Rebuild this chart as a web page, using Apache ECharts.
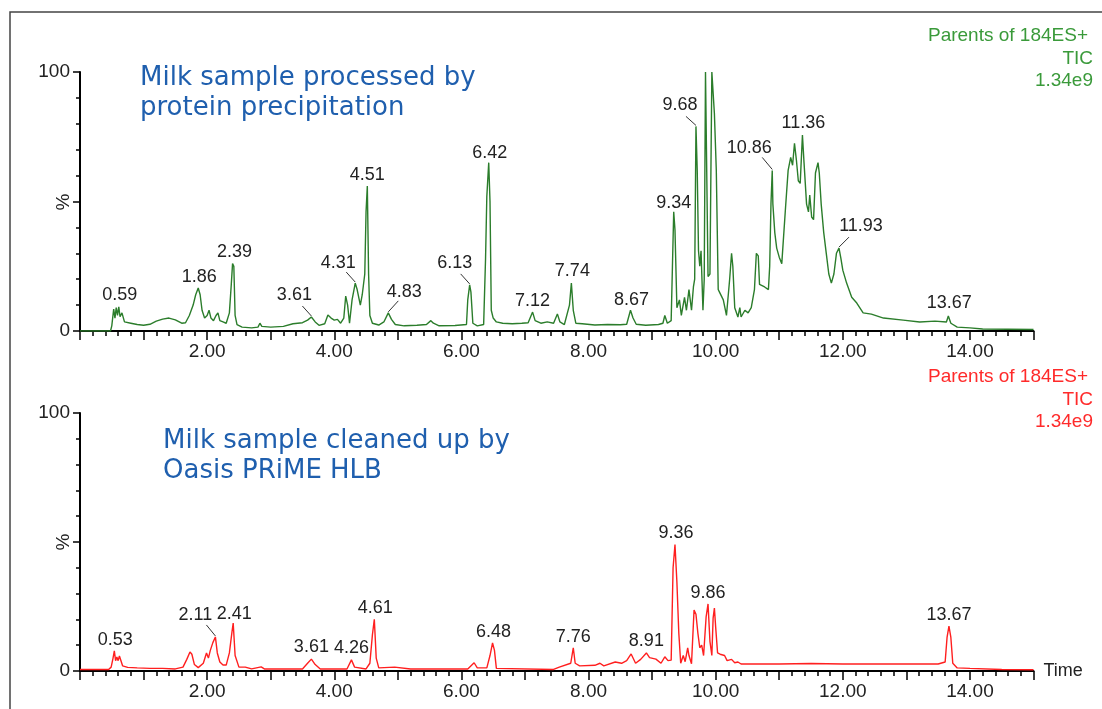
<!DOCTYPE html>
<html>
<head>
<meta charset="utf-8">
<script src="https://cdn.jsdelivr.net/npm/echarts@6/dist/echarts.min.js"></script>
<style>
html, body { margin: 0; padding: 0; background: #fff; }
#chart { width: 1102px; height: 709px; }
</style>
</head>
<body>
<div id="chart"></div>
<script>
// protein precipitation trace: [time (min), relative intensity %]
const topTrace = [
  [0, 0], [0.48, 0], [0.5, 2], [0.53, 8.5], [0.55, 5], [0.57, 9], [0.59, 6], [0.61, 9.3], [0.63, 5.5], [0.66, 7],
  [0.7, 3.5], [0.8, 3], [0.9, 2.5], [1.0, 2.2], [1.1, 2.6], [1.2, 3.8], [1.3, 4.6], [1.4, 5], [1.5, 4.3], [1.6, 3],
  [1.66, 3.2], [1.72, 6], [1.78, 10], [1.82, 14], [1.86, 16.6], [1.89, 14], [1.92, 8], [1.96, 5], [2.0, 6], [2.03, 8],
  [2.06, 5], [2.1, 4], [2.14, 6], [2.17, 7], [2.2, 4], [2.25, 3.5], [2.3, 3], [2.35, 7], [2.38, 18], [2.4, 26],
  [2.42, 25], [2.44, 6], [2.47, 2.5], [2.55, 1.5], [2.7, 1.2], [2.8, 1.5], [2.83, 3], [2.86, 1.8], [3.0, 1.5], [3.2, 1.8],
  [3.35, 2.8], [3.5, 3.2], [3.58, 4.2], [3.64, 5.4], [3.7, 3.5], [3.76, 2.2], [3.85, 2.8], [3.9, 6.2], [3.95, 5], [4.0, 4.2],
  [4.05, 4.5], [4.1, 3], [4.15, 5], [4.18, 13.5], [4.21, 10], [4.24, 3], [4.28, 12], [4.33, 18.5], [4.36, 16], [4.41, 10],
  [4.44, 14], [4.48, 22], [4.5, 46], [4.52, 56], [4.54, 22], [4.56, 6], [4.6, 3], [4.7, 2.3], [4.78, 3.5], [4.85, 7],
  [4.9, 4.5], [4.96, 2.5], [5.1, 2], [5.3, 2.2], [5.45, 2.5], [5.52, 4], [5.56, 3], [5.65, 2], [5.9, 2.1], [6.08, 2.5],
  [6.1, 12], [6.13, 17.8], [6.15, 15], [6.18, 3], [6.25, 2], [6.35, 2.5], [6.38, 28], [6.4, 52], [6.43, 65], [6.45, 50],
  [6.47, 8], [6.5, 5], [6.55, 3.5], [6.65, 3], [6.8, 2.8], [6.95, 3], [7.05, 3.2], [7.12, 7.3], [7.16, 4], [7.25, 3],
  [7.35, 3.5], [7.45, 3], [7.51, 6.6], [7.55, 3.5], [7.62, 2.5], [7.7, 10], [7.73, 18.5], [7.76, 8], [7.8, 3], [7.9, 2.8],
  [8.1, 2.3], [8.3, 2.5], [8.5, 2.4], [8.6, 2.6], [8.66, 8], [8.7, 5], [8.75, 2.6], [8.9, 2.2], [9.1, 2.5], [9.17, 3],
  [9.2, 6], [9.24, 3], [9.3, 4], [9.32, 25], [9.34, 46], [9.36, 39], [9.39, 9], [9.43, 12], [9.46, 6], [9.51, 13],
  [9.54, 8], [9.58, 16], [9.62, 8], [9.65, 17], [9.67, 20], [9.69, 79], [9.71, 62], [9.73, 31], [9.75, 25], [9.77, 31],
  [9.8, 8], [9.82, 20], [9.84, 100], [9.87, 100], [9.88, 21], [9.91, 22], [9.94, 100], [9.97, 100], [9.98, 84], [10.01, 62],
  [10.04, 16], [10.06, 15], [10.12, 12], [10.17, 6], [10.22, 20], [10.25, 30], [10.27, 25], [10.3, 9], [10.35, 5.4], [10.38, 9],
  [10.4, 5.4], [10.46, 8], [10.51, 7], [10.56, 9], [10.61, 16], [10.64, 30], [10.67, 29], [10.69, 18], [10.77, 17], [10.83, 16],
  [10.85, 25], [10.87, 49], [10.89, 62], [10.9, 49], [10.93, 38], [10.96, 32], [11.0, 28.5], [11.04, 26], [11.1, 48], [11.14, 62],
  [11.18, 67], [11.21, 64], [11.24, 72.5], [11.27, 66], [11.3, 58], [11.33, 57], [11.365, 75.7], [11.39, 65], [11.43, 49], [11.46, 46],
  [11.48, 52.5], [11.51, 44], [11.54, 43], [11.57, 61], [11.61, 65], [11.63, 61], [11.66, 49], [11.7, 38], [11.74, 30], [11.78, 22],
  [11.82, 18.5], [11.86, 22], [11.9, 30], [11.94, 32], [11.97, 28], [12.0, 23.5], [12.06, 18.5], [12.14, 13], [12.22, 10.8], [12.32, 7],
  [12.45, 6.5], [12.64, 5], [12.95, 4.2], [13.21, 3.5], [13.45, 3.8], [13.63, 3.5], [13.66, 5.8], [13.7, 3], [13.8, 1.5], [14.0, 1.2],
  [14.2, 0.8], [15, 0.6]
];

// Oasis PRiME HLB trace
const bottomTrace = [
  [0, 0.6], [0.45, 0.6], [0.49, 1.5], [0.52, 5], [0.54, 7.8], [0.56, 4], [0.58, 5.4], [0.6, 4], [0.62, 5.8], [0.65, 6.2],
  [0.67, 2], [0.75, 1.4], [0.9, 1.2], [1.1, 1.0], [1.3, 1.0], [1.5, 0.8], [1.62, 1.5], [1.68, 4.5], [1.73, 7.4], [1.76, 6.5],
  [1.8, 2.5], [1.86, 1.3], [1.94, 3], [1.99, 7], [2.02, 5], [2.05, 8], [2.09, 11], [2.13, 13.2], [2.16, 7], [2.2, 3.5],
  [2.25, 2.3], [2.3, 2.3], [2.35, 7], [2.39, 15], [2.41, 18.6], [2.44, 6], [2.5, 1.5], [2.6, 1.5], [2.7, 0.8], [2.85, 1.6],
  [2.9, 0.8], [3.5, 0.8], [3.58, 3], [3.64, 4.6], [3.7, 2.5], [3.78, 0.8], [4.2, 0.8], [4.27, 4.3], [4.32, 1.5], [4.5, 0.8],
  [4.56, 3], [4.6, 14], [4.63, 20], [4.66, 5], [4.7, 1.2], [4.95, 1.5], [5.2, 0.8], [6.1, 0.8], [6.2, 3.2], [6.25, 1.2],
  [6.4, 1.2], [6.45, 6], [6.49, 10.9], [6.52, 8], [6.55, 1], [7.45, 0.6], [7.54, 1.5], [7.72, 3], [7.76, 9], [7.79, 3],
  [7.86, 2], [8.1, 2.2], [8.18, 3], [8.24, 2], [8.42, 3.5], [8.52, 3], [8.6, 4], [8.67, 6.6], [8.74, 3], [8.82, 4.5],
  [8.91, 7], [8.96, 5.2], [9.06, 4.6], [9.14, 3], [9.2, 5.5], [9.25, 4], [9.3, 4.2], [9.33, 40], [9.36, 49], [9.39, 34.5],
  [9.42, 14.7], [9.45, 3], [9.49, 6], [9.52, 3.6], [9.56, 9], [9.58, 6], [9.62, 2.8], [9.66, 23.6], [9.69, 22], [9.72, 14.7],
  [9.75, 9], [9.78, 10], [9.81, 6], [9.85, 21], [9.88, 26], [9.91, 11.5], [9.94, 6], [9.96, 20.5], [9.98, 24.4], [10.0, 17],
  [10.03, 7], [10.07, 6.5], [10.1, 7], [10.14, 6], [10.18, 4], [10.25, 4.5], [10.3, 3.2], [10.35, 3.5], [10.4, 2.7], [11.0, 2.7],
  [11.5, 2.9], [12.0, 2.7], [13.5, 2.7], [13.61, 3.5], [13.64, 13], [13.67, 17.4], [13.7, 13], [13.73, 3], [13.8, 1.2], [14.0, 1.0],
  [14.5, 0.6], [15, 0.5]
];

// peak labels: [time, %, text]
const topPeaks = [
  [0.61, 9.3, '0.59'], [1.86, 16.6, '1.86'], [2.4, 26, '2.39'], [3.64, 5.4, '3.61'], [4.33, 18.5, '4.31'],
  [4.52, 56, '4.51'], [4.85, 7, '4.83'], [6.13, 17.8, '6.13'], [6.43, 65, '6.42'], [7.12, 7.3, '7.12'],
  [7.73, 18.5, '7.74'], [8.66, 8, '8.67'], [9.34, 46, '9.34'], [9.69, 79, '9.68'], [10.89, 62, '10.86'],
  [11.365, 75.7, '11.36'], [11.94, 32, '11.93'], [13.66, 5.8, '13.67']
];
const bottomPeaks = [
  [0.54, 7.8, '0.53'], [2.13, 13.2, '2.11'], [2.41, 18.6, '2.41'], [3.64, 4.6, '3.61'], [4.27, 4.3, '4.26'],
  [4.63, 20, '4.61'], [6.49, 10.9, '6.48'], [7.76, 9, '7.76'], [8.91, 7, '8.91'], [9.36, 49, '9.36'],
  [9.88, 26, '9.86'], [13.67, 17.4, '13.67']
];

const xTicks = [2, 4, 6, 8, 10, 12, 14];
const yTicks = [0, 100];
const infoLines = ['Parents of 184ES+', 'TIC', '1.34e9'];

// label placement relative to the peak: [dx, dy, leaderDx, leaderDy]
const topLabelPos = {
  '0.59': [1, -12], '1.86': [1, -11], '2.39': [2, -12], '3.61': [-17, -22, -9, -11],
  '4.31': [-17, -20, -9, -11], '4.51': [0, -11], '4.83': [16, -21, 10, -12], '6.13': [-15, -22, -9, -11],
  '6.42': [1, -10], '7.12': [0, -11], '7.74': [1, -12], '8.67': [1, -10], '9.34': [0, -9],
  '9.68': [-16, -21, -10, -10], '10.86': [-23, -22, -10, -13], '11.36': [1, -12],
  '11.93': [22, -22, 10, -11], '13.67': [1, -13]
};
const bottomLabelPos = {
  '0.53': [1, -11], '2.11': [-20, -22, -9, -12], '2.41': [1, -9], '3.61': [0, -12], '4.26': [0, -12],
  '4.61': [1, -11], '6.48': [1, -11], '7.76': [0, -11], '8.91': [0, -12], '9.36': [1, -12],
  '9.86': [0, -11], '13.67': [0, -11]
};

const chart = echarts.init(document.getElementById('chart'));

function xAxisFor(gridIndex, withName) {
  return {
    type: 'value', gridIndex: gridIndex, min: 0, max: 15, interval: 1,
    name: withName ? 'Time' : '',
    nameLocation: 'end', nameGap: 10,
    nameTextStyle: { fontFamily: 'Liberation Sans', fontSize: 18, color: '#222', verticalAlign: 'middle', padding: [9, 0, 0, 0] },
    axisLine: { lineStyle: { color: '#000', width: 2 } },
    axisTick: { length: 9, lineStyle: { color: '#000', width: 1.5 } },
    minorTick: { show: true, splitNumber: 5, length: 5, lineStyle: { color: '#000', width: 1.5 } },
    splitLine: { show: false },
    axisLabel: {
      margin: 11, fontFamily: 'Liberation Sans', fontSize: 19, color: '#222',
      formatter: v => xTicks.indexOf(v) >= 0 ? v.toFixed(2) : ''
    }
  };
}

function yAxisFor(gridIndex) {
  return {
    type: 'value', gridIndex: gridIndex, min: 0, max: 100, interval: 50,
    axisLine: { show: true, lineStyle: { color: '#000', width: 2 } },
    axisTick: { show: true, length: 7, lineStyle: { color: '#000', width: 1.5 } },
    minorTick: { show: true, splitNumber: 5, length: 4, lineStyle: { color: '#000', width: 1.5 } },
    splitLine: { show: false },
    axisLabel: {
      margin: 10, fontFamily: 'Liberation Sans', fontSize: 19, color: '#222',
      formatter: v => yTicks.indexOf(v) >= 0 ? String(v) : ''
    }
  };
}

function peakSeries(peaks, pos, axisIndex) {
  return {
    type: 'custom', xAxisIndex: axisIndex, yAxisIndex: axisIndex, clip: false, z: 5,
    data: peaks.map(p => [p[0], p[1]]),
    renderItem: function (params, api) {
      const pt = api.coord([api.value(0), api.value(1)]);
      const txt = peaks[params.dataIndex][2];
      const o = pos[txt];
      const children = [{
        type: 'text',
        style: {
          x: pt[0] + o[0], y: pt[1] + o[1], text: txt,
          align: 'center', verticalAlign: 'middle',
          font: '18px "Liberation Sans", Arial, sans-serif', fill: '#222'
        }
      }];
      if (o.length > 2) {
        children.push({
          type: 'line',
          shape: { x1: pt[0], y1: pt[1] - 1, x2: pt[0] + o[2], y2: pt[1] + o[3] },
          style: { stroke: '#333', lineWidth: 1 }
        });
      }
      return { type: 'group', children: children };
    }
  };
}

function infoText(top, color) {
  return infoLines.map((s, i) => ({
    type: 'text', x: i === 0 ? 1088 : 1093, y: top + i * 22.5, silent: true,
    style: {
      text: s, align: 'right', verticalAlign: 'middle',
      font: '19px "Liberation Sans", Arial, sans-serif', fill: color
    }
  }));
}

function percentText(y) {
  return {
    type: 'text', x: 64, y: y, rotation: Math.PI / 2, silent: true,
    style: {
      text: '%', align: 'center', verticalAlign: 'middle',
      font: '19px "Liberation Sans", Arial, sans-serif', fill: '#222'
    }
  };
}

const option = {
  animation: false,
  backgroundColor: '#fff',
  grid: [
    { left: 80, top: 72, width: 953.5, height: 259 },
    { left: 80, top: 413, width: 953.5, height: 258 }
  ],
  xAxis: [xAxisFor(0, false), xAxisFor(1, true)],
  yAxis: [yAxisFor(0), yAxisFor(1)],
  series: [
    {
      type: 'line', xAxisIndex: 0, yAxisIndex: 0, data: topTrace,
      showSymbol: false, symbol: 'none', sampling: 'none',
      lineStyle: { color: '#2b7d2b', width: 1.4 }
    },
    {
      type: 'line', xAxisIndex: 1, yAxisIndex: 1, data: bottomTrace,
      showSymbol: false, symbol: 'none', sampling: 'none',
      lineStyle: { color: '#ff1f1f', width: 1.4 }
    },
    peakSeries(topPeaks, topLabelPos, 0),
    peakSeries(bottomPeaks, bottomLabelPos, 1)
  ],
  graphic: [
    {
      type: 'rect', silent: true,
      shape: { x: 10, y: 12, width: 1200, height: 800 },
      style: { fill: 'none', stroke: '#444', lineWidth: 1.5 }
    },
    {
      type: 'text', left: 140, top: 63,
      style: {
        text: 'Milk sample processed by\nprotein precipitation', lineHeight: 30,
        font: '26px "DejaVu Sans", Verdana, sans-serif', fill: '#1f5fae'
      }
    },
    {
      type: 'text', left: 163, top: 426,
      style: {
        text: 'Milk sample cleaned up by\nOasis PRiME HLB', lineHeight: 30,
        font: '26px "DejaVu Sans", Verdana, sans-serif', fill: '#1f5fae'
      }
    },
    percentText(202),
    percentText(542)
  ].concat(infoText(36, '#3a9a3a'), infoText(377, '#ff2a2a'))
};

chart.setOption(option);
</script>
</body>
</html>
